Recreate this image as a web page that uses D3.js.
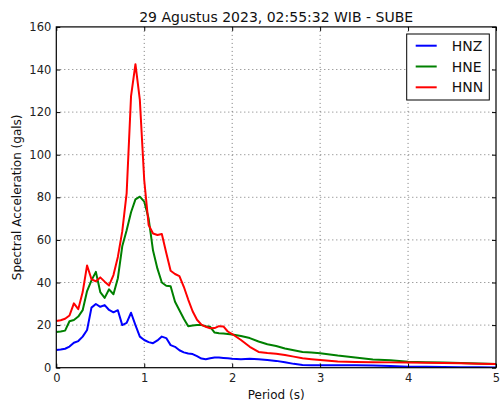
<!DOCTYPE html>
<html>
<head>
<meta charset="utf-8">
<script src="https://cdn.jsdelivr.net/npm/d3@7"></script>
<style>
  html, body { margin: 0; padding: 0; background: #fff; }
  svg { display: block; font-family: "DejaVu Sans", sans-serif; }
</style>
</head>
<body>
<svg id="chart" width="501" height="408"></svg>
<script>
// Periods (s) shared by all three components
const periods = [0, 0.05, 0.1, 0.15, 0.2, 0.25, 0.3, 0.35, 0.4, 0.45, 0.5, 0.55, 0.6, 0.65, 0.7, 0.75, 0.8, 0.85, 0.9, 0.95,
  1.0, 1.05, 1.1, 1.15, 1.2, 1.25, 1.3, 1.35, 1.4, 1.45, 1.5, 1.55, 1.6, 1.65, 1.7, 1.75, 1.8, 1.85, 1.9, 1.95,
  2.0, 2.1, 2.2, 2.3, 2.4, 2.5, 2.6, 2.7, 2.8, 2.9, 3.0, 3.2, 3.4, 3.6, 3.8, 4.0, 4.2, 4.4, 4.6, 4.8, 5.0];

// Spectral acceleration (gals) per component
const hnz = [8.3, 8.5, 8.9, 9.9, 11.7, 12.5, 14.6, 17.7, 28.2, 29.9, 28.6, 29.4, 27.1, 26.0, 27.0, 20.0, 21.0, 25.8, 20.0, 14.6,
  13.0, 12.0, 11.5, 12.8, 14.6, 13.9, 10.6, 9.8, 8.2, 7.2, 6.7, 6.4, 5.4, 4.3, 4.0, 4.4, 4.8, 4.8, 4.6, 4.4,
  4.2, 4.0, 4.2, 4.0, 3.6, 3.2, 2.6, 1.8, 1.3, 1.2, 1.2, 1.1, 1.1, 1.0, 0.8, 0.5, 0.4, 0.3, 0.2, 0.2, 0.1];

const hne = [16.8, 17.0, 17.4, 21.8, 22.4, 24.0, 27.0, 36.0, 41.0, 45.0, 35.5, 32.8, 36.8, 34.5, 42.0, 57.0, 64.5, 73.0, 79.0, 80.3,
  78.0, 70.0, 55.0, 46.5, 40.0, 38.5, 38.2, 31.0, 27.0, 23.0, 19.5, 19.8, 20.0, 20.0, 19.5, 19.2, 16.5, 16.2, 16.0, 15.8,
  15.6, 14.9, 13.9, 12.3, 11.0, 10.2, 9.0, 8.2, 7.4, 7.1, 6.8, 5.7, 4.8, 3.9, 3.5, 2.8, 2.6, 2.4, 2.2, 2.0, 1.7];

const hnn = [21.9, 22.3, 23.0, 24.5, 30.2, 27.5, 35.5, 48.0, 41.5, 40.6, 42.4, 40.4, 38.6, 43.5, 52.0, 64.0, 82.0, 127.5, 142.5, 125.7,
  88.0, 67.0, 63.0, 62.3, 62.8, 54.0, 45.5, 44.0, 43.0, 38.0, 32.0, 26.5, 22.5, 20.2, 19.2, 18.5, 18.6, 19.5, 19.4, 17.0,
  15.8, 13.0, 9.8, 7.4, 6.9, 6.6, 6.0, 5.2, 4.4, 4.0, 3.6, 2.9, 2.7, 2.6, 2.5, 2.4, 2.3, 2.2, 2.1, 1.9, 1.7];

const seriesNames = ["HNZ", "HNE", "HNN"];
const seriesColors = ["#0000ff", "#008000", "#ff0000"];
const xTicks = [0, 1, 2, 3, 4, 5];
const yTicks = [0, 20, 40, 60, 80, 100, 120, 140, 160];

const titleText = "29 Agustus 2023, 02:55:32 WIB - SUBE";
const xLabel = "Period (s)";
const yLabel = "Spectral Acceleration (gals)";

const svg = d3.select("#chart");
const plot = { left: 56.3, right: 496, top: 26.9, bottom: 367.7 };

const x = d3.scaleLinear().domain([0, 5]).range([plot.left, plot.right]);
const y = d3.scaleLinear().domain([0, 160]).range([plot.bottom, plot.top]);

svg.append("rect").attr("width", 501).attr("height", 408).attr("fill", "#fff");

// dotted grid
const grid = svg.append("g").attr("stroke", "#555").attr("stroke-width", 0.8)
  .attr("stroke-dasharray", "1,3");
grid.selectAll("line.gx").data(xTicks.slice(1, -1)).join("line")
  .attr("x1", d => x(d)).attr("x2", d => x(d))
  .attr("y1", plot.top).attr("y2", plot.bottom);
grid.selectAll("line.gy").data(yTicks.slice(1, -1)).join("line")
  .attr("y1", d => y(d)).attr("y2", d => y(d))
  .attr("x1", plot.left).attr("x2", plot.right);

// curves
const line = d3.line().x((d, i) => x(periods[i])).y(d => y(d));
const clip = svg.append("clipPath").attr("id", "clip").append("rect")
  .attr("x", plot.left).attr("y", plot.top)
  .attr("width", plot.right - plot.left).attr("height", plot.bottom - plot.top);
const curves = svg.append("g").attr("clip-path", "url(#clip)");
[hnz, hne, hnn].forEach((vals, k) => {
  curves.append("path").datum(vals)
    .attr("d", line)
    .attr("fill", "none")
    .attr("stroke", seriesColors[k])
    .attr("stroke-width", 2)
    .attr("stroke-linejoin", "round");
});

// axes with inward ticks
const tickLen = 4;
const axisBottom = d3.axisBottom(x).tickValues(xTicks).tickFormat(d3.format("d"))
  .tickSizeInner(-tickLen).tickSizeOuter(0).tickPadding(6);
const axisLeft = d3.axisLeft(y).tickValues(yTicks).tickFormat(d3.format("d"))
  .tickSizeInner(-tickLen).tickSizeOuter(0).tickPadding(5);
const axisTop = d3.axisTop(x).tickValues(xTicks).tickFormat("")
  .tickSizeInner(-tickLen).tickSizeOuter(0);
const axisRight = d3.axisRight(y).tickValues(yTicks).tickFormat("")
  .tickSizeInner(-tickLen).tickSizeOuter(0);

function styleAxis(g) {
  g.select(".domain").remove();
  g.selectAll(".tick line").attr("stroke", "#000").attr("stroke-width", 1);
  g.selectAll(".tick text").attr("fill", "#222").style("font-size", "11.5px")
    .style("font-family", "DejaVu Sans, sans-serif");
}
svg.append("g").attr("transform", `translate(0,${plot.bottom})`).call(axisBottom).call(styleAxis);
svg.append("g").attr("transform", `translate(${plot.left},0)`).call(axisLeft).call(styleAxis);
svg.append("g").attr("transform", `translate(0,${plot.top})`).call(axisTop).call(styleAxis);
svg.append("g").attr("transform", `translate(${plot.right},0)`).call(axisRight).call(styleAxis);

// frame
svg.append("rect")
  .attr("x", plot.left).attr("y", plot.top)
  .attr("width", plot.right - plot.left).attr("height", plot.bottom - plot.top)
  .attr("fill", "none").attr("stroke", "#000").attr("stroke-width", 1.2);

// title and axis labels
svg.append("text").attr("x", (plot.left + plot.right) / 2).attr("y", 21.8)
  .attr("text-anchor", "middle").style("font-size", "14px").attr("fill", "#111")
  .text(titleText);
svg.append("text").attr("x", (plot.left + plot.right) / 2).attr("y", 399)
  .attr("text-anchor", "middle").style("font-size", "12px").attr("fill", "#111")
  .text(xLabel);
svg.append("text").attr("transform", `translate(21,${(plot.top + plot.bottom) / 2}) rotate(-90)`)
  .attr("text-anchor", "middle").style("font-size", "12px").attr("fill", "#111")
  .text(yLabel);

// legend
const legend = svg.append("g");
legend.append("rect").attr("x", 406.7).attr("y", 34).attr("width", 82.6).attr("height", 66)
  .attr("fill", "#fff").attr("stroke", "#000").attr("stroke-width", 1);
const rowY = d3.scalePoint().domain(seriesNames).range([45.7, 87.3]);
seriesNames.forEach((name, k) => {
  legend.append("line").attr("x1", 415.7).attr("x2", 436.7)
    .attr("y1", rowY(name)).attr("y2", rowY(name))
    .attr("stroke", seriesColors[k]).attr("stroke-width", 2);
  legend.append("text").attr("x", 451.7).attr("y", rowY(name) + 5)
    .style("font-size", "14px").attr("fill", "#111").text(name);
});
</script>
</body>
</html>
